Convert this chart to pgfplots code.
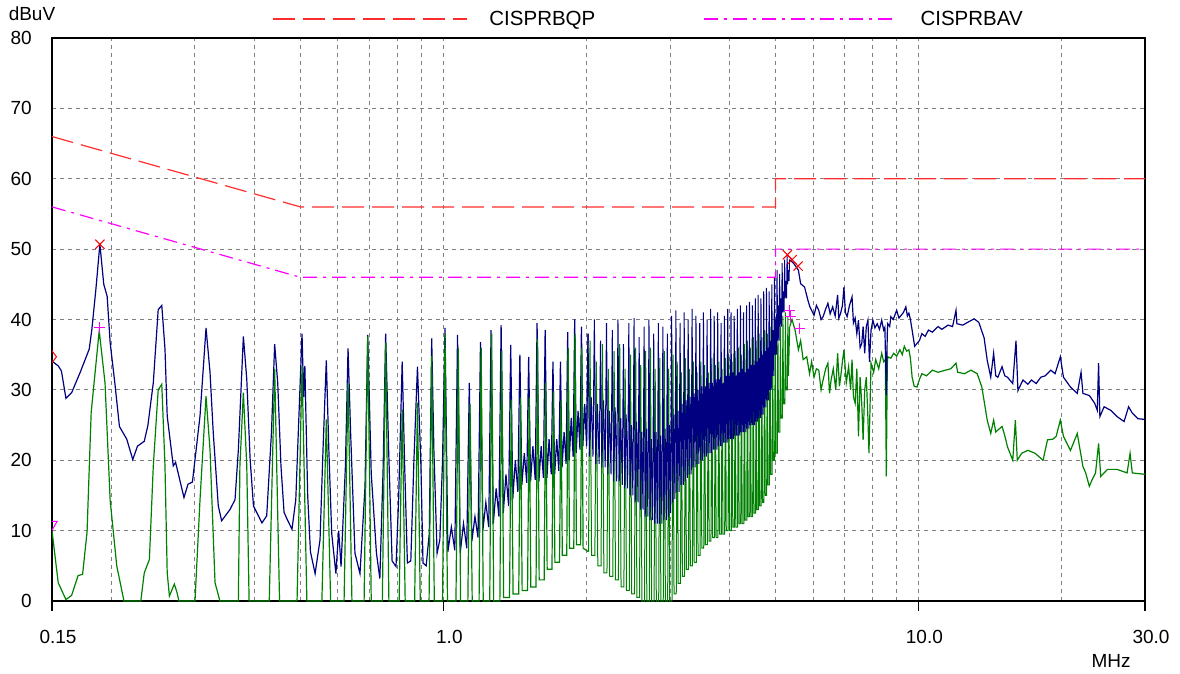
\documentclass[border=0pt]{standalone}
\usepackage{fontspec}
\setmainfont{Liberation Sans}
\usepackage{pgfplots}
\pgfplotsset{compat=1.18}
\definecolor{trblue}{RGB}{0,0,128}
\definecolor{trgreen}{RGB}{0,128,0}
\definecolor{qpred}{RGB}{255,45,45}
\definecolor{avmag}{RGB}{255,0,255}
\definecolor{gridgray}{RGB}{128,128,128}
\begin{document}
\begin{tikzpicture}
\begin{axis}[
 name=ax, scale only axis, width=1093pt, height=563pt,
 xmode=log, xmin=0.15, xmax=30, ymin=0, ymax=80,
 xtick={0.15,1,10,30}, xticklabels={0.15,1.0,10.0,30.0},
 minor xtick={0.2,0.3,0.4,0.5,0.6,0.7,0.8,0.9,2,3,4,5,6,7,8,9,20},
 ytick={0,10,20,30,40,50,60,70,80}, yticklabels={0,10,20,30,40,50,60,70,80},
 xmajorgrids, xminorgrids, ymajorgrids,
 grid style={draw=gridgray, dash pattern=on 4pt off 4pt, line width=1pt},
 minor grid style={draw=gridgray, dash pattern=on 4pt off 4pt, line width=1pt},
 tick align=outside, xtick pos=left, ytick pos=left,
 major tick length=10pt, minor tick length=0pt,
 ytick style={draw=none},
 xtick style={black, line width=1.2pt},
 axis line style={black, line width=1.4pt},
 tick label style={font=\fontsize{19}{22}\selectfont},
 xticklabel style={anchor=center, inner sep=0pt, xshift=6pt, yshift=-25.5pt},
 yticklabel style={anchor=east, inner sep=0pt, xshift=-10pt},
 ylabel={dBuV}, ylabel style={rotate=-90, at={(axis description cs:-0.0183,1.0426)}, anchor=center, font=\fontsize{19}{22}\selectfont},
 xlabel={MHz}, xlabel style={at={(axis description cs:0.9689,-0.1066)}, anchor=center, font=\fontsize{19}{22}\selectfont},
 clip marker paths=true,
 legend style={at={(0.2013,1.0337)}, anchor=west, draw=none, fill=none, inner sep=0pt, legend columns=2,
   font=\fontsize{20.5}{23}\selectfont, nodes={inner sep=0pt},
   /tikz/every odd column/.append style={column sep=22pt},
   /tikz/every even column/.append style={column sep=108pt}},
 legend cell align=left,
]
% ---- peak trace (blue), below 2 MHz
\addplot[trblue, line width=1.2pt, forget plot] coordinates {
(0.150,34.1)(0.1546,33.4)(0.157,32.7)(0.1605,28.8)(0.165,29.6)(0.172,32.5)(0.1797,35.8)(0.182,38.6)(0.1857,44.5)(0.1892,50.7)
(0.1928,45)(0.196,43.3)(0.1989,36.7)(0.2034,31)(0.208,24.8)(0.2155,23)(0.2219,20.1)(0.227,22)(0.2346,22.7)(0.2387,24.9)
(0.2451,31)(0.251,41.4)(0.2554,42)(0.2594,35.8)(0.2622,26.3)(0.270,19.2)(0.2731,19.7)(0.2844,14.7)(0.290,16.6)(0.2963,16.9)
(0.3074,26.3)(0.3165,38.8)(0.3227,32.5)(0.3278,23.9)(0.3359,13.5)(0.3414,11.4)(0.3555,13)(0.3643,14.4)(0.3702,21.5)(0.3793,37.6)
(0.3856,31.5)(0.392,20.1)(0.3984,13.5)(0.415,11.1)(0.4247,12.1)(0.4346,23.9)(0.4414,36.5)(0.448,31)(0.4551,19.2)(0.462,12.6)
(0.469,11.6)(0.4801,10.2)(0.489,14.4)
(0.504,38.0)(0.508,29.0)(0.511,33.4)(0.518,15.0)(0.525,7.0)(0.537,3.9)(0.550,8.7)(0.558,21.5)(0.567,34.2)(0.574,21.5)
(0.582,9.6)(0.594,3.9)(0.602,10.0)(0.609,4.9)(0.622,19.1)(0.630,35.9)(0.638,23.8)(0.6515,6.8)(0.6675,3.9)(0.684,16.2)
(0.693,37.8)(0.705,18.1)(0.723,6.8)(0.735,3.2)(0.747,19.1)(0.756,38.0)(0.767,21.5)(0.780,5.7)(0.795,4.9)(0.805,14.4)
(0.819,34.0)(0.829,19.1)(0.840,5.4)(0.854,5.7)(0.867,20.0)(0.882,33.3)(0.897,19.1)(0.906,5.4)(0.920,5.0)(0.934,9.6)
(0.945,37.3)(0.955,21.5)(0.970,6.8)(0.983,8.7)(0.996,20)
(1.008,38.8)(1.022,7.0)(1.0395,10.5)(1.057,7.2)(1.071,37.8)(1.085,6.8)(1.1025,11)(1.120,7.5)
(1.134,31.0)(1.148,8.5)(1.1655,12)(1.183,9.0)(1.197,36.8)(1.211,10.0)(1.2285,14)(1.246,10.5)
(1.260,38.5)(1.274,11.0)(1.2915,16)(1.309,12.0)(1.323,39.2)(1.337,12.5)(1.3545,18)(1.372,13.5)
(1.386,36.4)(1.400,14.5)(1.4175,20)(1.435,15.5)(1.449,35.0)(1.463,16.5)(1.4805,21)(1.498,16.8)
(1.512,34.7)(1.526,17.0)(1.5435,22)(1.561,17.2)(1.575,39.5)(1.589,17.0)(1.6065,22)(1.624,17.5)
(1.638,38.5)(1.652,17.5)(1.6695,23)(1.687,18.0)(1.701,34.0)(1.715,18.0)(1.7325,23)(1.750,18.5)
(1.764,34.0)(1.778,19.0)(1.7955,24)(1.813,19.5)(1.827,38.2)(1.841,20.0)(1.8585,26)(1.876,20.5)
(1.890,40.0)(1.904,21.0)(1.9215,27)(1.939,21.5)(1.953,39.0)(1.967,22.0)(1.9845,28)(2.002,22.0)(2.016,38.0)
};
% ---- average trace (green), below 2 MHz
\addplot[trgreen, line width=1.2pt, forget plot] coordinates {
(0.150,10)(0.1546,2.6)(0.1605,0.2)(0.165,0.8)(0.1702,3.6)(0.174,3.8)(0.1778,9.8)(0.1814,26.8)(0.1886,38.4)(0.194,31)
(0.1989,14.3)(0.2053,5)(0.2126,0)(0.2307,0)(0.2346,4)(0.2405,5.9)(0.2451,19.2)(0.251,30)(0.2554,30.8)(0.2594,19.2)
(0.2622,4)(0.265,0.7)(0.2714,2.4)(0.275,1.2)(0.2775,0)(0.300,0)(0.3074,14.4)(0.3165,29.1)(0.3227,21.5)(0.3306,2.6)
(0.3386,0)(0.3702,0)(0.373,19.2)(0.3793,29.6)(0.3856,19.2)(0.390,0)(0.430,0)(0.4414,33)(0.452,0)
(0.492,0)(0.504,33.4)(0.516,0)(0.555,0)(0.567,25.8)(0.579,0)(0.618,0)(0.630,31)(0.642,0)(0.681,0)
(0.693,37.6)(0.705,0)(0.744,0)(0.756,36.7)(0.768,0)(0.807,0)(0.819,27.2)(0.831,0)(0.870,0)(0.882,28.2)
(0.894,0)(0.933,0)(0.945,34.8)(0.957,0)(0.996,0)(1.008,38)(1.020,0)
(1.063,0)(1.075,36)(1.087,0)(1.126,0)(1.138,28)(1.150,0)(1.189,0)(1.201,36)(1.213,0)
(1.252,0)(1.264,38)(1.276,0)(1.315,0)(1.327,35.5)(1.339,0.5)(1.378,0.5)(1.390,28.6)(1.402,1)
(1.441,1)(1.453,28.9)(1.465,1.5)(1.504,1.5)(1.516,28.9)(1.528,2)(1.567,2)(1.579,37.2)(1.591,3)
(1.630,3)(1.642,31)(1.654,4.5)(1.693,4.5)(1.705,29.8)(1.717,5.5)(1.756,5.5)(1.768,28.5)(1.780,6.5)
(1.819,6.5)(1.831,36)(1.843,7.5)(1.882,7.5)(1.894,38)(1.906,8)(1.945,8)(1.957,36)(1.969,7.5)(2.021,7)
};
% ---- average trace (green), 2 to 5.4 MHz
\addplot[trgreen, line width=1pt, forget plot] coordinates {
(2.021,7)(2.036,37)(2.051,6.5)(2.084,6.5)(2.099,34)(2.114,5)(2.147,5)(2.162,36.5)(2.177,4)
(2.210,4)(2.225,33)(2.240,3.5)(2.273,3.5)(2.288,35.5)(2.303,3)(2.336,3)(2.351,36.5)(2.366,2)
(2.399,2)(2.414,33)(2.429,1.5)(2.462,1.5)(2.477,35)(2.492,1)(2.525,1)(2.540,36)(2.555,0.5)
(2.588,0.5)(2.603,33.5)(2.618,0)(2.651,0)(2.666,35.5)(2.681,0)(2.714,0)(2.729,36)(2.744,0)
(2.777,0)(2.792,33)(2.807,0)(2.840,0)(2.855,34.5)(2.870,0)(2.903,0)(2.918,35.5)(2.933,0)
(2.966,0)(2.981,33)(2.996,0)(3.029,0)(3.044,35)(3.059,1)(3.092,1)(3.107,34)(3.122,2.5)
(3.155,2.5)(3.170,32.5)(3.185,3.5)(3.218,3.5)(3.233,34.5)(3.248,4.5)(3.281,4.5)(3.296,33)(3.311,5)
(3.344,5)(3.359,34)(3.374,5.5)(3.407,5.5)(3.422,32.5)(3.437,6.5)(3.470,6.5)(3.485,34)(3.500,7.5)
(3.533,7.5)(3.548,33.5)(3.563,8)(3.596,8)(3.611,32.5)(3.626,8.5)(3.659,8.5)(3.674,34.5)(3.689,9)
(3.722,9)(3.737,33.5)(3.752,9)(3.785,9)(3.800,34)(3.815,9.5)(3.848,9.5)(3.863,33)(3.878,9.5)
(3.911,9.5)(3.926,34.5)(3.941,10)(3.974,10)(3.989,35)(4.004,10)(4.037,10)(4.052,34)(4.067,10.5)
(4.100,10.5)(4.115,35.5)(4.130,10.5)(4.163,10.5)(4.178,36)(4.193,11)(4.226,11)(4.241,35)(4.256,11)
(4.289,11)(4.304,36.5)(4.319,11.5)(4.352,11.5)(4.367,37)(4.382,12)(4.415,12)(4.430,36)(4.445,12)
(4.478,12)(4.493,37.5)(4.508,12.5)(4.541,12.5)(4.556,37)(4.571,13)(4.604,13)(4.619,38)(4.634,13.5)
(4.667,13.5)(4.682,37.5)(4.697,14)(4.730,14)(4.745,38.5)(4.760,15)(4.793,15)(4.808,38)(4.823,16.5)
(4.856,16.5)(4.871,39)(4.886,18)(4.919,18)(4.934,38.5)(4.949,20)(4.982,20)(4.997,39.5)(5.012,21)
(5.045,21)(5.060,40)(5.075,24)(5.108,24)(5.123,39)(5.138,26)(5.171,26)(5.186,40.5)(5.201,28)
(5.234,28)(5.249,41)(5.264,30)(5.297,30)(5.312,40.5)(5.327,32)(5.36,39)
};
% ---- average trace (green), above 5.4 MHz
\addplot[trgreen, line width=1.2pt, forget plot] coordinates {
(5.36,39)(5.42,40.0)(5.5,38.5)(5.59,35.7)(5.65,37.0)(5.72,34.3)(5.82,34.7)(5.9,32.3)(5.96,34.0)(6.03,31.8)
(6.1,33.0)(6.17,32.8)(6.24,30.0)(6.3,31.4)(6.38,33.0)(6.45,33.8)(6.5,29.5)(6.55,31.4)(6.62,33.0)(6.7,30.0)
(6.76,35.2)(6.82,30.5)(6.86,31.8)(6.92,34.0)(6.97,35.7)(7.05,31.0)(7.13,33.3)(7.2,30.0)(7.25,34.3)(7.3,29.0)
(7.36,28.1)(7.42,33.0)(7.48,23.4)(7.54,31.8)(7.6,28.0)(7.65,22.9)(7.71,30.0)(7.77,31.8)(7.83,26.0)(7.87,21.0)
(7.95,33.8)(8.05,32.5)(8.13,34.3)(8.25,33.0)(8.37,35.2)(8.45,34.0)(8.52,34.3)(8.56,17.7)(8.6,33.5)(8.62,34.7)
(8.75,34.5)(8.87,35.2)(9.0,34.8)(9.14,35.7)(9.25,35.0)(9.34,36.2)(9.45,35.5)(9.55,35.7)(9.62,34.5)(9.7,31.8)
(9.8,30.5)(9.93,30.4)(10.05,31.5)(10.17,32.3)(10.4,32.0)(10.7,32.8)(11.0,32.5)(11.4,32.8)(11.7,33.0)(12.0,33.8)
(12.1,32.5)(12.5,32.3)(12.9,32.8)(13.3,32.3)(13.6,30.4)(13.96,25.7)(14.2,23.8)(14.4,25.7)(14.55,24.0)(14.7,24.3)
(15.0,24.8)(15.2,23.5)(15.4,21.9)(15.8,20.0)(16.0,25.7)(16.15,20.0)(16.5,21.0)(17.0,21.4)(17.6,21.0)(18.3,20.0)
(18.7,22.9)(19.2,23.0)(19.5,23.4)(19.9,25.7)(20.2,23.4)(20.9,21.4)(21.6,23.8)(22.2,19.1)(22.5,18.2)(22.9,16.3)
(23.2,17.2)(23.6,18.2)(23.95,22.4)(24.2,17.7)(25.0,18.7)(26.2,18.7)(27.5,18.2)(27.9,21.0)(28.2,18.2)(30.0,18.0)
};
% ---- peak trace (blue), 2 to 5.4 MHz
\addplot[trblue, line width=1pt, forget plot] coordinates {
(2.002,22.0)(2.016,38.0)(2.030,20.5)(2.0475,29)(2.065,20.5)(2.079,40.0)(2.093,19.5)(2.1105,28)(2.128,19.5)
(2.142,37.0)(2.156,19)(2.1735,28.5)(2.191,19)(2.205,39.5)(2.219,18)(2.2365,27)(2.254,18)
(2.268,38.5)(2.282,17)(2.2995,27.5)(2.317,17)(2.331,40.0)(2.345,17)(2.3625,26)(2.380,16.5)
(2.394,36.5)(2.408,16)(2.4255,26.5)(2.443,16)(2.457,39.5)(2.471,15)(2.4885,25)(2.506,15)
(2.520,40.2)(2.534,14)(2.5515,25.5)(2.569,14)(2.583,37.5)(2.597,13)(2.6145,24)(2.632,13)
(2.646,39.0)(2.660,12)(2.6775,24.5)(2.695,12)(2.709,40.0)(2.723,11.5)(2.7405,23)(2.758,11.5)
(2.772,38.0)(2.786,11)(2.8035,24)(2.821,11)(2.835,39.5)(2.849,11)(2.8665,23.5)(2.884,11)
(2.898,39.0)(2.912,11.5)(2.9295,24.5)(2.947,11.5)(2.961,38.0)(2.975,12)(2.9925,25)(3.010,12.5)
(3.024,40.5)(3.038,14)(3.0555,26.5)(3.073,14.5)(3.087,41.3)(3.101,15.5)(3.1185,27)(3.136,15.5)
(3.150,39.5)(3.164,16.5)(3.1815,28)(3.199,16.5)(3.213,41.0)(3.227,17)(3.2445,28.5)(3.262,17.5)
(3.276,40.0)(3.290,18)(3.3075,29)(3.325,18)(3.339,41.5)(3.353,19)(3.3705,29.5)(3.388,19)
(3.402,40.5)(3.416,19.5)(3.4335,30)(3.451,19.5)(3.465,39.5)(3.479,20)(3.4965,30.5)(3.514,20)
(3.528,41.0)(3.542,20.5)(3.5595,30.5)(3.577,20.5)(3.591,40.0)(3.605,21)(3.6225,31)(3.640,21)
(3.654,41.5)(3.668,21)(3.6855,31)(3.703,21.5)(3.717,40.5)(3.731,21.5)(3.7485,31.5)(3.766,21.5)
(3.780,41.0)(3.794,22)(3.8115,31.5)(3.829,22)(3.843,39.5)(3.857,22)(3.8745,31)(3.892,22.5)
(3.906,40.5)(3.920,22.5)(3.9375,32)(3.955,22.5)(3.969,41.5)(3.983,23)(4.0005,32)(4.018,23)
(4.032,41.0)(4.046,23)(4.0635,32.5)(4.081,23)(4.095,40.5)(4.109,23.5)(4.1265,32)(4.144,23.5)
(4.158,41.5)(4.172,23.5)(4.1895,32.5)(4.207,23.5)(4.221,42.0)(4.235,24)(4.2525,33)(4.270,24)
(4.284,41.0)(4.298,24)(4.3155,32.5)(4.333,24)(4.347,42.0)(4.361,24.5)(4.3785,33)(4.396,24.5)
(4.410,42.5)(4.424,25)(4.4415,33.5)(4.459,25)(4.473,42.0)(4.487,25)(4.5045,33.5)(4.522,25)
(4.536,43.0)(4.550,25.5)(4.5675,34)(4.585,25.5)(4.599,43.5)(4.613,26)(4.6305,34.5)(4.648,26)
(4.662,43.0)(4.676,26.5)(4.6935,35)(4.711,26.5)(4.725,44.0)(4.739,27.5)(4.7565,35.5)(4.774,27.5)
(4.788,44.5)(4.802,28.5)(4.8195,36)(4.837,28.5)(4.851,44.0)(4.865,30)(4.8825,37)(4.900,30)
(4.914,45.0)(4.928,32)(4.9455,38.5)(4.963,32)(4.977,46.0)(4.991,35)(5.0085,40)(5.026,35)
(5.040,47.0)(5.054,37)(5.0715,42)(5.089,37)(5.103,46.5)(5.117,39)(5.1345,43)(5.152,39)
(5.166,48.0)(5.180,41)(5.1975,44)(5.215,41)(5.229,48.5)(5.243,43)(5.2605,45.5)(5.278,43)
(5.292,49.2)(5.306,45)(5.3235,47)(5.341,45.5)(5.355,48.5)
};
% ---- peak trace (blue), above 5.4 MHz
\addplot[trblue, line width=1.2pt, forget plot] coordinates {
(5.355,48.5)(5.46,48.0)(5.59,47.0)(5.65,45.1)(5.76,44.6)(5.85,42.8)(5.91,41.8)(6.03,40.6)(6.10,42.0)(6.17,41.3)(6.24,40.0)
(6.30,40.4)(6.38,41.5)(6.45,42.3)(6.52,40.8)(6.60,41.8)(6.68,40.5)(6.76,43.5)(6.80,40.2)(6.86,40.9)(6.92,42.0)
(6.97,44.6)(7.02,41.0)(7.08,40.4)(7.16,42.0)(7.25,43.2)(7.30,39.5)(7.36,40.2)(7.42,38.0)(7.48,39.9)(7.54,36.0)
(7.60,36.6)(7.65,39.0)(7.71,35.2)(7.77,39.0)(7.83,39.9)(7.89,34.0)(7.95,38.5)(8.02,39.9)(8.10,38.8)(8.19,39.4)
(8.28,38.6)(8.37,39.9)(8.45,38.5)(8.50,38.9)(8.56,29.3)(8.60,38.0)(8.62,39.4)(8.70,39.0)(8.75,40.4)(8.85,40.0)
(9.00,41.3)(9.10,40.2)(9.20,40.6)(9.30,41.0)(9.41,41.8)(9.48,40.5)(9.55,40.9)(9.62,40.0)(9.70,38.5)(9.82,36.2)
(9.93,36.6)(10.05,37.0)(10.17,38.0)(10.33,37.6)(10.5,38.5)(10.7,38.2)(11.0,39.0)(11.2,38.6)(11.55,39.2)(11.8,39.0)
(12.0,41.3)(12.05,39.4)(12.4,39.2)(12.7,39.6)(13.1,40.1)(13.4,39.6)(13.75,37.4)(13.96,34.2)(14.2,31.8)(14.4,35.2)
(14.55,32.0)(14.7,31.8)(15.0,33.3)(15.2,32.0)(15.4,31.8)(15.8,30.9)(16.05,37.0)(16.2,29.9)(16.6,31.4)(17.0,30.8)
(17.3,31.4)(17.7,30.9)(18.1,31.8)(18.5,32.0)(19.0,32.8)(19.4,32.3)(19.9,34.7)(20.2,31.8)(20.9,30.4)(21.6,29.5)
(22.0,32.5)(22.2,29.5)(22.9,29.2)(23.5,28.1)(23.8,27.1)(23.95,33.8)(24.1,26.2)(24.6,27.6)(25.4,27.1)(26.2,26.2)
(27.1,25.5)(27.7,27.6)(28.2,26.7)(29.0,25.9)(30.0,25.8)
};
% ---- limit lines
\addplot[qpred, line width=1.2pt, dash pattern=on 22pt off 8pt,
  legend image code/.code={\draw[qpred, line width=1.2pt, dash pattern=on 22pt off 8pt] (0pt,0pt) -- (194pt,0pt);}] coordinates {
(0.15,66)(0.5,56)(5,56)(5,60)(30,60)};
\addlegendentry{CISPRBQP}
\addplot[avmag, line width=1.2pt, dash pattern=on 14pt off 6pt on 3pt off 6pt,
  legend image code/.code={\draw[avmag, line width=1.2pt, dash pattern=on 14pt off 6pt on 3pt off 6pt] (0pt,0pt) -- (194pt,0pt);}] coordinates {
(0.15,56)(0.5,46)(5,46)(5,50)(30,50)};
\addlegendentry{CISPRBAV}
% ---- markers
\addplot[only marks, mark=x, mark size=6.5pt, red, mark options={line width=1pt}, forget plot] coordinates {
(0.1892,50.7)(5.30,49.2)(5.42,48.5)(5.58,47.6)};
\addplot[only marks, mark=+, mark size=5.5pt, avmag, mark options={line width=1pt}, forget plot] coordinates {
(0.1892,38.8)(5.35,41.3)(5.38,40.4)(5.62,38.7)};
\addplot[only marks, mark=diamond, mark size=6pt, red, mark options={line width=1pt, fill=none}, forget plot] coordinates {
(0.15,34.7)};
\addplot[only marks, mark=triangle, mark size=6pt, avmag, mark options={line width=1pt, fill=none, rotate=180}, forget plot] coordinates {
(0.15,10.9)};
\end{axis}
\pgfresetboundingbox
\path[use as bounding box] (ax.south west) ++(-52pt,-73pt) rectangle ++(1180pt,674pt);
\end{tikzpicture}
\end{document}
